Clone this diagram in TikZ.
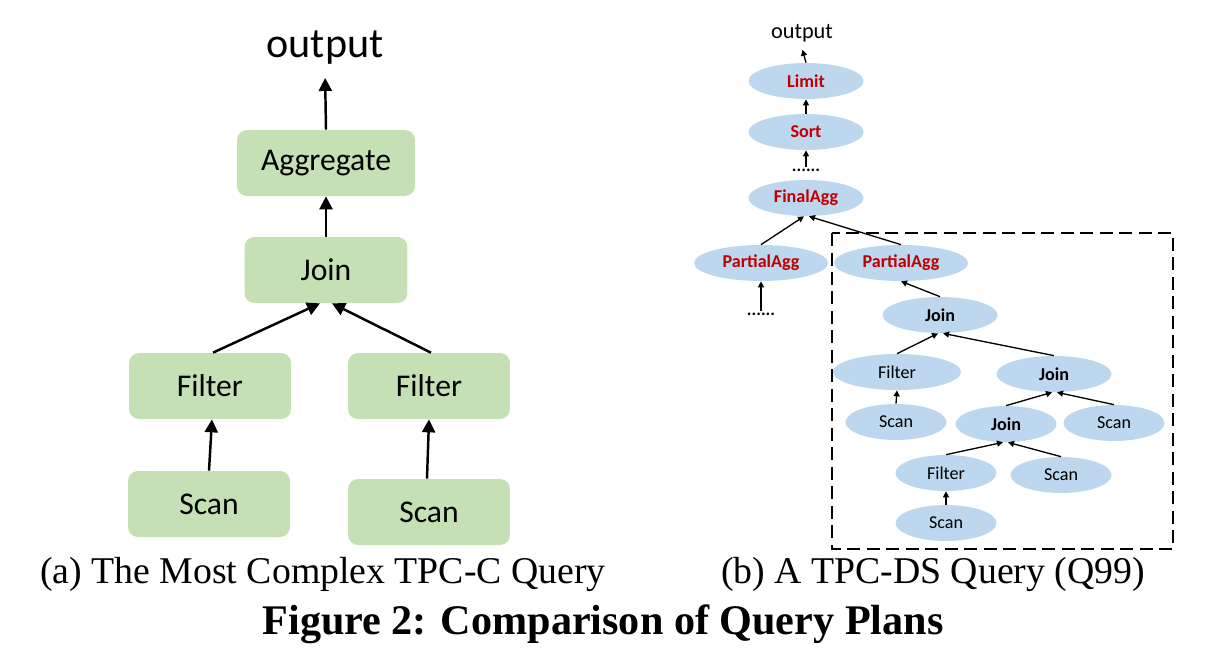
\documentclass[tikz,border=0pt]{standalone}
\usepackage{fontspec}
\setmainfont{Liberation Serif}
\newfontfamily\calibri{Carlito}
\usetikzlibrary{arrows.meta,shapes.geometric}
\definecolor{boxgreen}{HTML}{C5E0B4}
\definecolor{ellblue}{HTML}{BDD7EE}
\definecolor{opred}{HTML}{C00000}

\begin{document}
\begin{tikzpicture}[
  x=0.02cm,y=-0.02cm,
  opbox/.style={rectangle,rounded corners=0.2cm,fill=boxgreen,
    minimum width=3.26cm,minimum height=1.32cm,inner sep=0pt,
    font=\calibri\fontsize{18}{20}\selectfont},
  opell/.style={ellipse,fill=ellblue,minimum width=2.02cm,
    minimum height=0.72cm,inner sep=0pt,
    font=\calibri\fontsize{10.3}{12}\selectfont},
  boldop/.style={opell,font=\calibri\bfseries\fontsize{10.3}{12}\selectfont},
  redop/.style={boldop,text=opred},
  bigarrow/.style={-{Triangle[length=0.26cm,width=0.26cm]},line width=1.4pt},
  smallarrow/.style={-{Triangle[length=0.12cm,width=0.12cm]},line width=0.75pt},
  caption/.style={anchor=base,font=\fontsize{21.5}{24}\selectfont}
]
  \useasboundingbox (0,0) rectangle (1230,670);
  % (a) TPC-C plan
  \node[font=\calibri\fontsize{24}{28}\selectfont] (outa) at (325,48) {output};
  \node[opbox,minimum width=3.56cm] (agg) at (326,163) {Aggregate};
  \node[opbox] (joina) at (326,270) {Join};
  \node[opbox,minimum width=3.24cm] (filtl) at (210,386) {Filter};
  \node[opbox,minimum width=3.24cm] (filtr) at (429,386) {Filter};
  \node[opbox,minimum width=3.24cm] (scanl) at (209,504) {Scan};
  \node[opbox,minimum width=3.24cm] (scanr) at (429,512) {Scan};
  \draw[bigarrow,shorten >=4pt] (agg.north) -- (outa.south);
  \draw[bigarrow] (joina.north) -- (agg.south);
  \draw[bigarrow] ([xshift=0.06cm]filtl.north) -- ([xshift=-0.12cm]joina.south);
  \draw[bigarrow] ([xshift=0.04cm]filtr.north) -- ([xshift=0.12cm]joina.south);
  \draw[bigarrow] (scanl.north) -- ([xshift=0.04cm]filtl.south);
  \draw[bigarrow] ([xshift=-0.04cm]scanr.north) -- (filtr.south);

  % (b) TPC-DS plan
  \draw[dash pattern=on 0.26cm off 0.13cm,line width=1.6pt]
    (832,233) rectangle (1173,549);
  \node[font=\calibri\fontsize{12.7}{14}\selectfont] (outb) at (802,33) {output};
  \node[redop,minimum width=2.3cm] (limit) at (806,81) {Limit};
  \node[redop,minimum width=2.3cm] (sort) at (806,132) {Sort};
  \node[font=\calibri\bfseries\fontsize{10}{12}\selectfont,inner sep=1pt] (dotsa) at (806,170) {......};
  \node[redop,minimum width=2.3cm] (final) at (806,198) {FinalAgg};
  \node[redop,minimum width=2.68cm] (partl) at (761,263) {PartialAgg};
  \node[redop,minimum width=2.68cm] (partr) at (901,263) {PartialAgg};
  \node[font=\calibri\bfseries\fontsize{10}{12}\selectfont,inner sep=1pt] (dotsb) at (761,314) {......};
  \node[boldop,minimum width=2.3cm] (jtop) at (940,315) {Join};
  \node[opell,minimum width=2.56cm] (filtb) at (897,372) {Filter};
  \node[boldop,minimum width=2.3cm] (jmid) at (1054,374) {Join};
  \node[opell] (scanb) at (896,422) {Scan};
  \node[boldop] (jlow) at (1006,424) {Join};
  \node[opell] (scanc) at (1114,423) {Scan};
  \node[opell] (filtc) at (946,473) {Filter};
  \node[opell] (scand) at (1061,475) {Scan};
  \node[opell] (scane) at (946,523) {Scan};
  \draw[smallarrow,shorten >=1pt] (limit.north) -- (outb.south);
  \draw[smallarrow] (sort.north) -- (limit.south);
  \draw[smallarrow] (dotsa.north) -- (sort.south);
  \draw[smallarrow] (partl.north) -- ([xshift=-0.04cm]final.south);
  \draw[smallarrow] (partr.north) -- ([xshift=0.06cm]final.south);
  \draw[smallarrow] (dotsb.north) -- (partl.south);
  \draw[smallarrow] (jtop.north) -- (partr.south);
  \draw[smallarrow] (filtb.north) -- ([xshift=-0.04cm]jtop.south);
  \draw[smallarrow] (jmid.north) -- ([xshift=0.06cm]jtop.south);
  \draw[smallarrow] (scanb.north) -- (filtb.south);
  \draw[smallarrow] (jlow.north) -- ([xshift=-0.04cm]jmid.south);
  \draw[smallarrow] (scanc.north) -- ([xshift=0.06cm]jmid.south);
  \draw[smallarrow] (filtc.north) -- ([xshift=-0.06cm]jlow.south);
  \draw[smallarrow] (scand.north) -- ([xshift=0.04cm]jlow.south);
  \draw[smallarrow] (scane.north) -- (filtc.south);

  % captions
  \node[caption] (capa) at (323,583) {(a) The Most Complex TPC-C Query};
  \node[caption] (capb) at (933,583) {(b) A TPC-DS Query (Q99)};
  \node[caption,font=\bfseries\fontsize{24}{28}\selectfont] (title) at (603,634)
    {Figure 2: Comparison of Query Plans};
\end{tikzpicture}
\end{document}
